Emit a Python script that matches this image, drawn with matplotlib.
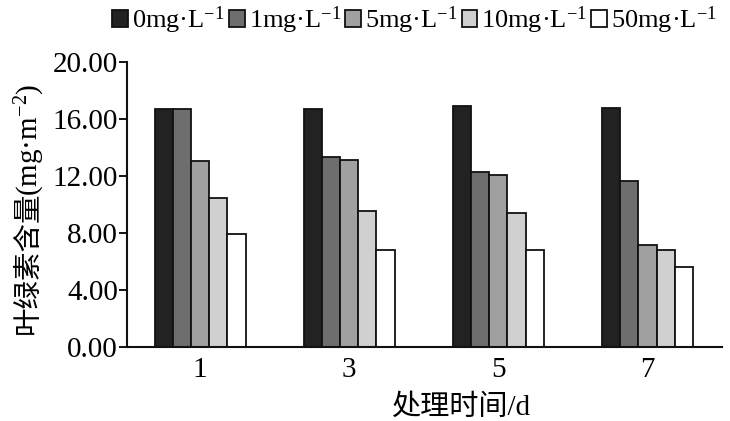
import matplotlib
matplotlib.use("Agg")
import matplotlib.pyplot as plt
import numpy as np

plt.rcParams['font.family'] = ['Liberation Serif', 'DejaVu Serif', 'Noto Sans CJK SC']
plt.rcParams['mathtext.fontset'] = 'custom'
plt.rcParams['mathtext.rm'] = 'Liberation Serif'
plt.rcParams['mathtext.it'] = 'Liberation Serif:italic'
plt.rcParams['mathtext.bf'] = 'Liberation Serif:bold'

days = ['1', '3', '5', '7']
series_names = ['0mg·L$^{-1}$', '1mg·L$^{-1}$', '5mg·L$^{-1}$', '10mg·L$^{-1}$', '50mg·L$^{-1}$']
c0 = [16.70, 16.72, 16.90, 16.75]
c1 = [16.70, 13.36, 12.28, 11.65]
c5 = [13.05, 13.10, 12.05, 7.13]
c10 = [10.45, 9.57, 9.43, 6.80]
c50 = [7.95, 6.80, 6.80, 5.64]
values = [c0, c1, c5, c10, c50]
colors = ['#222222', '#6e6e6e', '#a0a0a0', '#d0d0d0', '#ffffff']
yticks = [0, 4, 8, 12, 16, 20]
ylabel_cn = '叶绿素含量'
ylabel_unit = '(mg·m$^{-2}$)'
xlabel = '处理时间/d'

fig = plt.figure(figsize=(7.3, 4.21), dpi=100)
ax = fig.add_axes([0.174, 0.176, 0.815, 0.677])

x = np.arange(len(days))
w = 0.122
for i, (vals, col, name) in enumerate(zip(values, colors, series_names)):
    ax.bar(x + (i - 2) * w, vals, width=w, color=col, edgecolor='#111111',
           linewidth=1.3, label=name)

ax.set_xlim(-0.49, 3.5)
ax.set_ylim(0, 20)
ax.set_yticks(yticks)
ax.set_yticklabels([f'{v:.2f}' for v in yticks], fontsize=21)
ax.set_xticks(x)
ax.set_xticklabels(days, fontsize=21)
ax.tick_params(axis='x', length=0, pad=7)
ax.tick_params(axis='y', direction='out', length=5.5, width=1.3, pad=1)
for s in ['top', 'right']:
    ax.spines[s].set_visible(False)
for s in ['left', 'bottom']:
    ax.spines[s].set_linewidth(1.5)
    ax.spines[s].set_color('#111111')

ax.set_xlabel(xlabel, fontsize=21)
ax.xaxis.set_label_coords(0.56, -0.165)

# y label in two pieces (CJK + unit with superscript)
t1 = fig.text(28 / 730, 1 - 334 / 421, ylabel_cn, rotation=90, fontsize=20.5,
              ha='center', va='bottom', family=['Noto Sans CJK SC'])
fig.canvas.draw()
bb = t1.get_window_extent(fig.canvas.get_renderer())
top = (bb.y1 - 4) / fig.bbox.height
fig.text(30 / 730, top, ylabel_unit, rotation=90, fontsize=21,
         ha='center', va='bottom')

leg = fig.legend(loc='upper right', bbox_to_anchor=(1.0, 1.02), ncol=5, frameon=False,
                 fontsize=19, handlelength=0.6, handleheight=0.6, handletextpad=0.15,
                 columnspacing=0.15, borderaxespad=0.1)

fig.savefig('out.png', dpi=100)
